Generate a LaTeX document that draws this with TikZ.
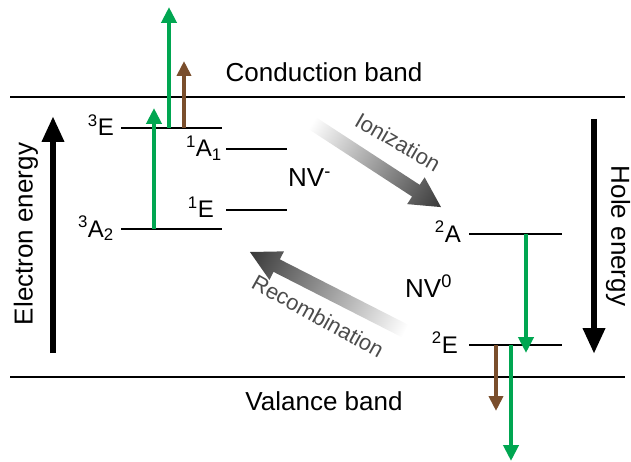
\documentclass[tikz,border=0pt]{standalone}
\usepackage{fontspec}
\setmainfont{Liberation Sans}
\usetikzlibrary{arrows.meta}

\definecolor{exgreen}{RGB}{0,166,81}
\definecolor{phbrown}{RGB}{122,78,44}

\tikzset{
    band/.style={line width=1.6pt},
    level/.style={line width=1.3pt},
    bigtxt/.style={font=\fontsize{26}{30}\selectfont, inner sep=0pt},
    lvltxt/.style={font=\fontsize{24}{28}\selectfont, inner sep=0pt, anchor=base east},
    proctxt/.style={font=\fontsize{22}{26}\selectfont, inner sep=0pt, text=black!70},
    greenarr/.style={exgreen, line width=4.6pt, -{Triangle[width=15pt,length=16pt]}},
    brownarr/.style={phbrown, line width=4.6pt, -{Triangle[width=14pt,length=15pt]}},
    energyarr/.style={line width=6.5pt, -{Triangle[width=21pt,length=26pt]}},
    fadearr/.style={left color=white, right color=black!78, draw=none}
}

\begin{document}
\begin{tikzpicture}[x=1pt, y=-1pt]
    \useasboundingbox (0,0) rectangle (631,462);

    % conduction and valence bands
    \draw[band] (10,97) -- (625,97);
    \draw[band] (10,377) -- (625,377);
    \node[bigtxt, anchor=base] (cbtxt) at (324,82) {Conduction band};
    \node[bigtxt, anchor=base] (vbtxt) at (324,410) {Valance band};

    % NV- levels
    \draw[level] (121,128) coordinate (tE-l) -- (222,128) coordinate (tE-r);
    \draw[level] (121,229) coordinate (tA-l) -- (222,229) coordinate (tA-r);
    \draw[level] (226,149) coordinate (sA-l) -- (287,149) coordinate (sA-r);
    \draw[level] (226,210) coordinate (sE-l) -- (287,210) coordinate (sE-r);
    \node[lvltxt] (tElbl) at (114,136) {\textsuperscript{3}E};
    \node[lvltxt] (tAlbl) at (114,237) {\textsuperscript{3}A\textsubscript{2}};
    \node[lvltxt] (sAlbl) at (222,157) {\textsuperscript{1}A\textsubscript{1}};
    \node[lvltxt] (sElbl) at (214,218) {\textsuperscript{1}E};
    \node[bigtxt, anchor=base west] (nvm) at (288,187) {NV\textsuperscript{-}};

    % NV0 levels
    \draw[level] (469,234) coordinate (dA-l) -- (562,234) coordinate (dA-r);
    \draw[level] (469,345) coordinate (dE-l) -- (562,345) coordinate (dE-r);
    \node[lvltxt] (dAlbl) at (461,242) {\textsuperscript{2}A};
    \node[lvltxt] (dElbl) at (458,353) {\textsuperscript{2}E};
    \node[bigtxt, anchor=base west] (nvz) at (405,297) {NV\textsuperscript{0}};

    % transitions
    \coordinate (up1) at (154,108);
    \coordinate (up2) at (169,7);
    \coordinate (up3) at (184,61);
    \draw[greenarr] (154,229) -- (up1);
    \draw[greenarr] (169,128) -- (up2);
    \draw[brownarr] (184,128) -- (up3);
    \coordinate (dn1) at (526,353);
    \coordinate (dn2) at (496,411);
    \coordinate (dn3) at (511,461);
    \draw[greenarr] (526,234) -- (dn1);
    \draw[brownarr] (496,345) -- (dn2);
    \draw[greenarr] (511,345) -- (dn3);

    % energy axes
    \coordinate (etop) at (53,116);
    \coordinate (hbot) at (594,354);
    \draw[energyarr] (53,353) -- (etop);
    \draw[energyarr] (594,119) -- (hbot);
    \node[bigtxt, rotate=90] (elec) at (26,234) {Electron energy};
    \node[bigtxt, rotate=-90] (hole) at (618,236) {Hole energy};

    % ionization / recombination
    \begin{scope}[transform canvas={shift={(312,123)}, rotate=-33.1}]
        \shade[fadearr] (0,-7) -- (124,-7) -- (124,-16) -- (154,0) -- (124,16) -- (124,7) -- (0,7) -- cycle;
    \end{scope}
    \begin{scope}[transform canvas={shift={(405,331)}, rotate=153}]
        \shade[fadearr] (0,-7) -- (144,-7) -- (144,-16) -- (174,0) -- (144,16) -- (144,7) -- (0,7) -- cycle;
    \end{scope}
    \node[proctxt, rotate=-30] (ion) at (398,142) {Ionization};
    \node[proctxt, rotate=-29] (rec) at (318,316) {Recombination};
\end{tikzpicture}
\end{document}
